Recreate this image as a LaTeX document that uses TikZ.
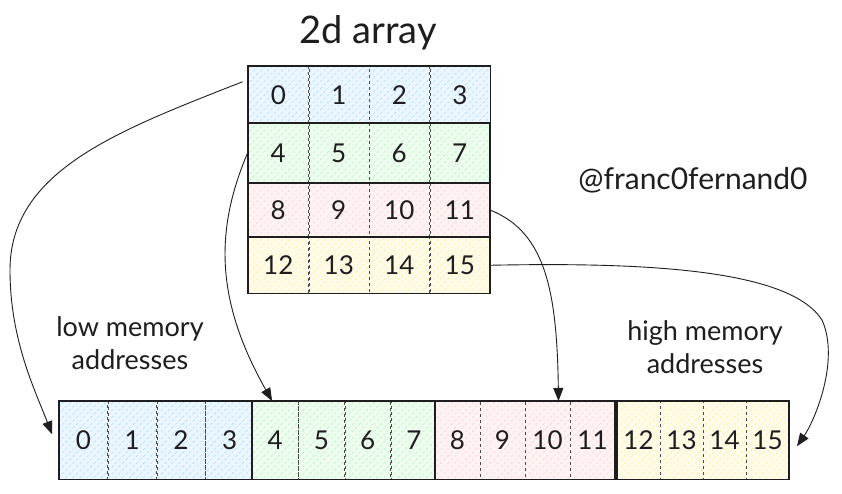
\documentclass[tikz,border=0pt]{standalone}
\usepackage{fontspec}
\setmainfont{Lato}
\usetikzlibrary{arrows.meta,positioning,fit,patterns.meta}
\definecolor{CellBlue}{HTML}{A5D8FF}
\definecolor{CellGreen}{HTML}{B2F2BB}
\definecolor{CellRed}{HTML}{FFC9C9}
\definecolor{CellYellow}{HTML}{FFEC99}
\definecolor{Ink}{HTML}{1E1E1E}

\begin{document}
\begin{tikzpicture}[x=1pt,y=-1pt,
  cell/.style={draw=Ink!80,dashed,line width=0.5pt,inner sep=0pt,text=Ink,font=\fontsize{26}{26}\selectfont,
    preaction={fill=#1!22},pattern={Lines[angle=45,distance=5pt,line width=0.6pt]},pattern color=#1!85},
  rowbox/.style={draw=Ink,line width=1.1pt,inner sep=0pt},
  note/.style={font=\fontsize{27}{33}\selectfont,align=center,text=Ink},
  link/.style={draw=Ink,line width=0.9pt,-{Triangle[length=13pt,width=10pt]}},
]
\fill[white] (0,0) rectangle (842,494);

% 2d array, one row per colour
\foreach \r/\y/\h/\c in {0/66/57/CellBlue,1/123/60/CellGreen,2/183/54/CellRed,3/237/56/CellYellow} {
  \pgfmathtruncatemacro\first{4*\r}
  \pgfmathtruncatemacro\last{4*\r+3}
  \node[cell=\c,minimum width=60pt,minimum height=\h pt,anchor=north west] (t\first) at (248,\y) {\first};
  \foreach \k in {1,2,3} {
    \pgfmathtruncatemacro\prev{4*\r+\k-1}
    \pgfmathtruncatemacro\cur{4*\r+\k}
    \node[cell=\c,minimum width=60pt,minimum height=\h pt,right=0pt of t\prev] (t\cur) {\cur};
  }
  \node[rowbox,fit=(t\first)(t\last)] (row\r) {};
}

% memory, one block per row
\foreach \r/\x/\w/\c in {0/59/48.25/CellBlue,1/252/45.75/CellGreen,2/435/44.5/CellRed,3/617/42.5/CellYellow} {
  \pgfmathtruncatemacro\first{4*\r}
  \pgfmathtruncatemacro\last{4*\r+3}
  \node[cell=\c,minimum width=\w pt,minimum height=78pt,anchor=north west] (b\first) at (\x,401) {\first};
  \foreach \k in {1,2,3} {
    \pgfmathtruncatemacro\prev{4*\r+\k-1}
    \pgfmathtruncatemacro\cur{4*\r+\k}
    \node[cell=\c,minimum width=\w pt,minimum height=78pt,right=0pt of b\prev] (b\cur) {\cur};
  }
  \node[rowbox,fit=(b\first)(b\last)] (blk\r) {};
}

\node[note,font=\fontsize{38}{38}\selectfont] (title) at (368,33) {2d array};
\node[note,font=\fontsize{30}{30}\selectfont] (handle) at (693,180) {@franc0fernand0};
\node[note] (low) at (130,343) {low memory\\addresses};
\node[note] (high) at (705,347) {high memory\\addresses};

% rows to memory
\draw[link] ([xshift=-5pt,yshift=13pt]row0.west) .. controls (120,130) and (10,170) .. (10,270)
  .. controls (10,340) and (35,390) .. ([xshift=-7pt,yshift=6pt]b0.west);
\draw[link] (row1.west) .. controls (215,230) and (215,300) .. ([xshift=-3pt]b4.north);
\draw[link] (row2.east) .. controls (545,232) and (557,290) .. ([xshift=11pt]b10.north);
\draw[link] (row3.east) .. controls (650,262) and (790,270) .. (822,320)
  .. controls (840,360) and (815,420) .. ([xshift=8pt,yshift=-6pt]b15.east);
\end{tikzpicture}
\end{document}
